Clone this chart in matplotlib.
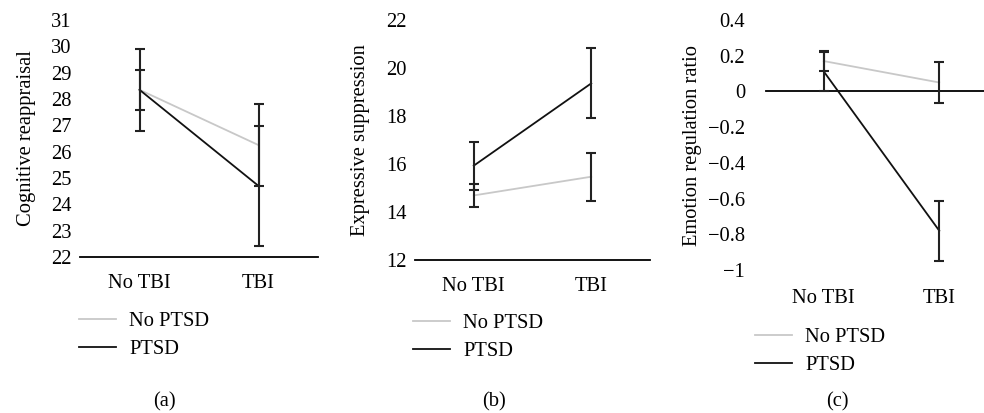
import matplotlib
matplotlib.use("Agg")
import matplotlib.pyplot as plt
from matplotlib.transforms import Affine2D

plt.rcParams['font.family'] = ['Liberation Serif', 'DejaVu Serif']

categories = ['No TBI', 'TBI']
series_names = ['No PTSD', 'PTSD']

# Panel (a) Cognitive reappraisal
a_no_ptsd = [28.35, 26.25]
a_no_ptsd_err = [0.75, 1.57]
a_ptsd = [28.35, 24.70]
a_ptsd_err = [1.55, 2.28]

# Panel (b) Expressive suppression
b_no_ptsd = [14.69, 15.47]
b_no_ptsd_err = [0.47, 1.00]
b_ptsd = [15.93, 19.36]
b_ptsd_err = [1.00, 1.46]

# Panel (c) Emotion regulation ratio
c_no_ptsd = [0.17, 0.05]
c_no_ptsd_err = [0.053, 0.115]
c_ptsd = [0.112, -0.78]
c_ptsd_err = [0.112, 0.167]

W, H = 984, 413
fig = plt.figure(figsize=(W / 100, H / 100), dpi=100)
FS = 14.8
LIGHT = '#c8c8c8'
DARK = '#111111'
ERR = '#222222'


def px_axes(l, r, t, b):
    return fig.add_axes([l / W, (H - b) / H, (r - l) / W, (b - t) / H])


def panel(ax, no_ptsd, no_err, ptsd, ptsd_err, ylim, yticks, yticklabels, ylabel,
          zero_line=False, ypad=6, xpad=10, labelpad=8):
    x = list(range(len(categories)))
    ax.plot(x, no_ptsd, color=LIGHT, lw=1.3, label=series_names[0], zorder=2)
    ax.plot(x, ptsd, color=DARK, lw=1.3, label=series_names[1], zorder=3)
    ax.errorbar(x, no_ptsd, yerr=no_err, fmt='none', ecolor=ERR, elinewidth=1.5,
                capsize=3.8, capthick=1.5, zorder=4)
    ax.errorbar(x, ptsd, yerr=ptsd_err, fmt='none', ecolor=ERR, elinewidth=1.5,
                capsize=3.8, capthick=1.5, zorder=4)
    ax.set_xlim(-0.5, 1.5)
    ax.set_ylim(*ylim)
    ax.set_xticks(x)
    ax.set_xticklabels(categories, fontsize=FS)
    ax.set_yticks(yticks)
    ax.set_yticklabels(yticklabels, fontsize=FS)
    ax.tick_params(axis='both', length=0)
    ax.tick_params(axis='x', pad=xpad)
    ax.tick_params(axis='y', pad=ypad)
    for s in ['top', 'right', 'left']:
        ax.spines[s].set_visible(False)
    if zero_line:
        ax.spines['bottom'].set_visible(False)
        ax.axhline(0, color='black', lw=1.3, zorder=1, clip_on=False)
    else:
        ax.spines['bottom'].set_color('black')
        ax.spines['bottom'].set_linewidth(1.3)
    ax.set_ylabel(ylabel, fontsize=FS, labelpad=labelpad)
    ax.patch.set_alpha(0)
    return ax


ax_a = px_axes(80, 318, 20, 257)
panel(ax_a, a_no_ptsd, a_no_ptsd_err, a_ptsd, a_ptsd_err, (22, 31),
      list(range(22, 32)), [str(v) for v in range(22, 32)], 'Cognitive reappraisal',
      xpad=12, labelpad=11)

ax_b = px_axes(415, 650, 20, 260)
panel(ax_b, b_no_ptsd, b_no_ptsd_err, b_ptsd, b_ptsd_err, (12, 22),
      list(range(12, 23, 2)), [str(v) for v in range(12, 23, 2)], 'Expressive suppression',
      xpad=12, labelpad=12)

ax_c = px_axes(766, 997, 20, 270)
c_ticks = [0.4, 0.2, 0, -0.2, -0.4, -0.6, -0.8, -1]
c_labels = ['0.4', '0.2', '0', '\u22120.2', '\u22120.4', '\u22120.6', '\u22120.8', '\u22121']
panel(ax_c, c_no_ptsd, c_no_ptsd_err, c_ptsd, c_ptsd_err, (-1, 0.4),
      c_ticks, c_labels, 'Emotion regulation ratio', zero_line=True, ypad=15,
      xpad=14, labelpad=4)

pix = Affine2D().scale(1 / W, -1 / H).translate(0, 1) + fig.transFigure


def legend_at(ax, x, y):
    ax.legend(loc='upper left', bbox_to_anchor=(x, y), bbox_transform=pix,
              frameon=False, fontsize=FS, handlelength=1.8, handletextpad=0.65,
              labelspacing=0.4, borderpad=0, borderaxespad=0)


legend_at(ax_a, 79, 312)
legend_at(ax_b, 413, 314)
legend_at(ax_c, 755, 328)

for label, xc in [('(a)', 164), ('(b)', 494), ('(c)', 837)]:
    fig.text(xc / W, 1 - 402 / H, label, ha='center', va='center', fontsize=FS)

fig.savefig('out.png', dpi=100)
